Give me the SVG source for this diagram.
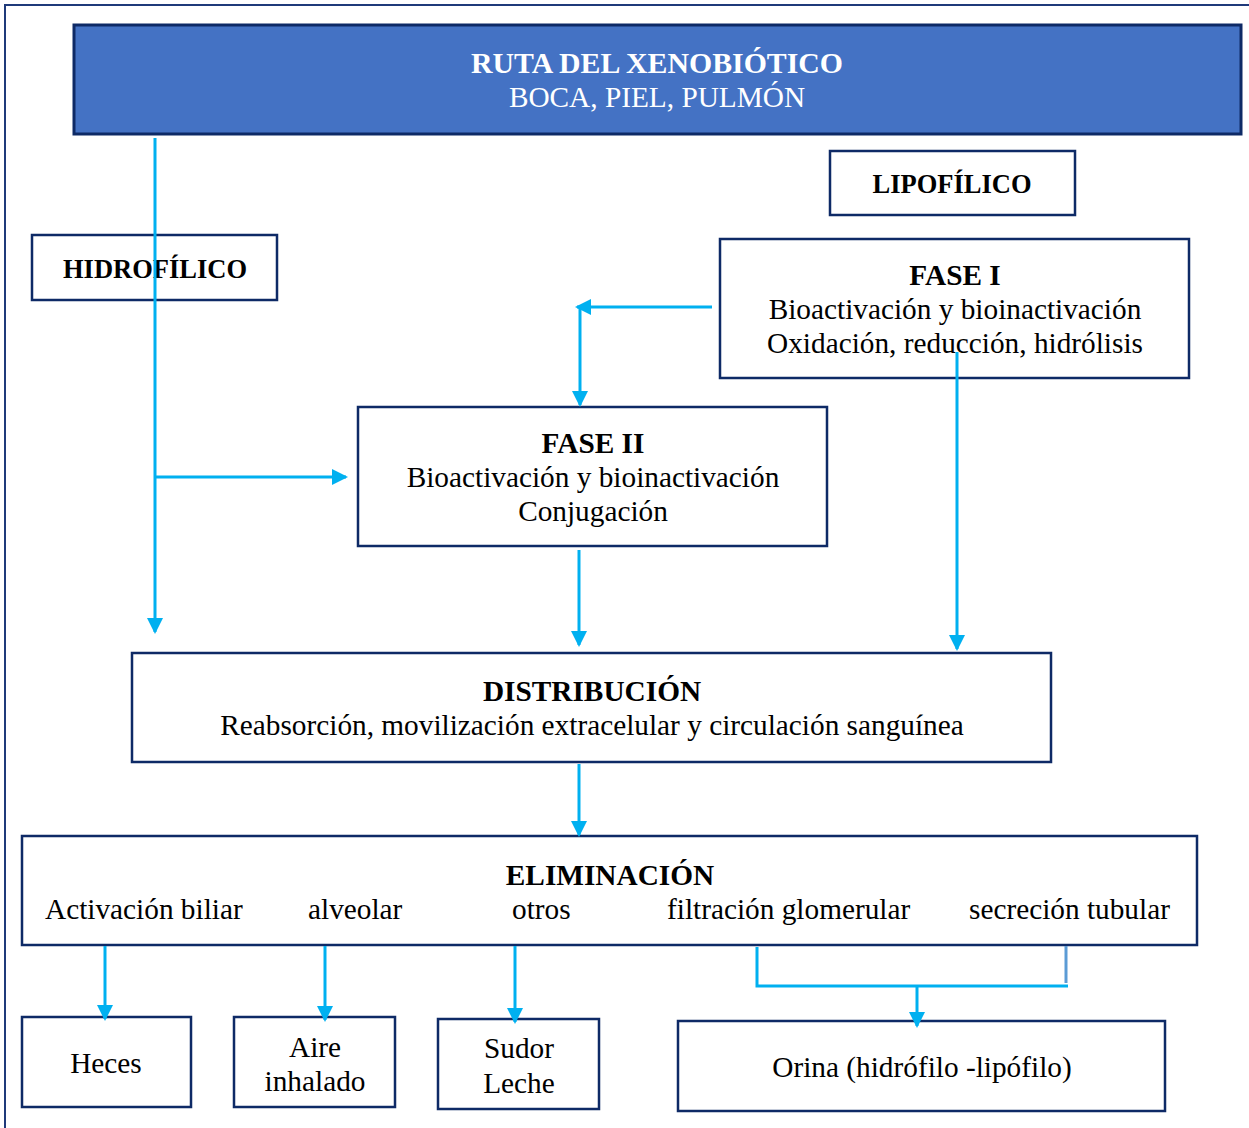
<svg xmlns="http://www.w3.org/2000/svg" width="1249" height="1128" viewBox="0 0 1249 1128">
<style>
.box{fill:#fff;stroke:#0E2A66;stroke-width:2.5}
.hdr{fill:#4472C4;stroke:#0E2A66;stroke-width:3}
text{font-family:"Liberation Serif","Times New Roman",serif;font-size:29.3px;fill:#000;text-anchor:middle}
.b{font-weight:bold}
.w{fill:#fff}
.st{font-size:26.5px}
.l{text-anchor:start}
.c{fill:none;stroke:#00B0F0;stroke-width:3}
</style>
<defs>
<marker id="ah2" markerWidth="16" markerHeight="16" refX="14" refY="8" orient="auto" markerUnits="userSpaceOnUse" viewBox="0 0 16 16">
<path d="M0,0 L16,8 L0,16 Z" fill="#00B0F0"/>
</marker>
</defs>
<rect width="1249" height="1128" fill="#fff"/>
<rect x="5" y="5" width="1260" height="1140" fill="none" stroke="#1F3A7A" stroke-width="2"/>
<g id="ruta">
<rect class="hdr" x="74" y="25" width="1167" height="109"/>
<text class="b w" x="657" y="73" style="font-size:29.8px">RUTA DEL XENOBIÓTICO</text>
<text class="w" x="657" y="107">BOCA, PIEL, PULMÓN</text>
</g>
<g id="lipofilico">
<rect class="box" x="830" y="151" width="245" height="64"/>
<text class="b st" x="952" y="193">LIPOFÍLICO</text>
</g>
<g id="hidrofilico">
<rect class="box" x="32" y="235" width="245" height="65"/>
<text class="b st" x="155" y="278">HIDROFÍLICO</text>
</g>
<g id="fase1">
<rect class="box" x="720" y="239" width="469" height="139"/>
<text class="b" x="955" y="285">FASE I</text>
<text x="955" y="319">Bioactivación y bioinactivación</text>
<text x="955" y="353">Oxidación, reducción, hidrólisis</text>
</g>
<g id="fase2">
<rect class="box" x="358" y="407" width="469" height="139"/>
<text class="b" x="593" y="453">FASE II</text>
<text x="593" y="487">Bioactivación y bioinactivación</text>
<text x="593" y="521">Conjugación</text>
</g>
<g id="distribucion">
<rect class="box" x="132" y="653" width="919" height="109"/>
<text class="b" x="592" y="701">DISTRIBUCIÓN</text>
<text x="592" y="735">Reabsorción, movilización extracelular y circulación sanguínea</text>
</g>
<g id="eliminacion">
<rect class="box" x="22" y="836" width="1175" height="109"/>
<text class="b" x="610" y="885">ELIMINACIÓN</text>
<text class="l" x="45" y="919">Activación biliar</text>
<text class="l" x="308" y="919">alveolar</text>
<text class="l" x="512" y="919">otros</text>
<text class="l" x="667" y="919">filtración glomerular</text>
<text class="l" x="969" y="919">secreción tubular</text>
</g>
<g id="heces">
<rect class="box" x="22" y="1017" width="169" height="90"/>
<text x="106" y="1073">Heces</text>
</g>
<g id="aire">
<rect class="box" x="234" y="1017" width="161" height="90"/>
<text x="315" y="1057">Aire</text>
<text x="315" y="1091">inhalado</text>
</g>
<g id="sudor">
<rect class="box" x="438" y="1019" width="161" height="90"/>
<text x="519" y="1058">Sudor</text>
<text x="519" y="1093">Leche</text>
</g>
<g id="orina">
<rect class="box" x="678" y="1021" width="487" height="90"/>
<text x="922" y="1077">Orina (hidrófilo -lipófilo)</text>
</g>
<g id="connectors">
<line class="c" x1="155" y1="138" x2="155" y2="632" marker-end="url(#ah2)"/>
<line class="c" x1="155" y1="477" x2="346" y2="477" marker-end="url(#ah2)"/>
<line class="c" x1="712" y1="307" x2="577" y2="307" marker-end="url(#ah2)"/>
<line class="c" x1="580" y1="307" x2="580" y2="405" marker-end="url(#ah2)"/>
<line class="c" x1="579" y1="550" x2="579" y2="645" marker-end="url(#ah2)"/>
<line class="c" x1="957" y1="352" x2="957" y2="649" marker-end="url(#ah2)"/>
<line class="c" x1="579" y1="764" x2="579" y2="835" marker-end="url(#ah2)"/>
<line class="c" x1="105" y1="946" x2="105" y2="1019" marker-end="url(#ah2)"/>
<line class="c" x1="325" y1="946" x2="325" y2="1020" marker-end="url(#ah2)"/>
<line class="c" x1="515" y1="946" x2="515" y2="1022" marker-end="url(#ah2)"/>
<polyline class="c" points="757,947 757,986 1068,986"/>
<line x1="1066" y1="946" x2="1066" y2="983" stroke="#5B9BD5" stroke-width="3"/>
<line class="c" x1="917" y1="986" x2="917" y2="1026" marker-end="url(#ah2)"/>
</g>
</svg>
